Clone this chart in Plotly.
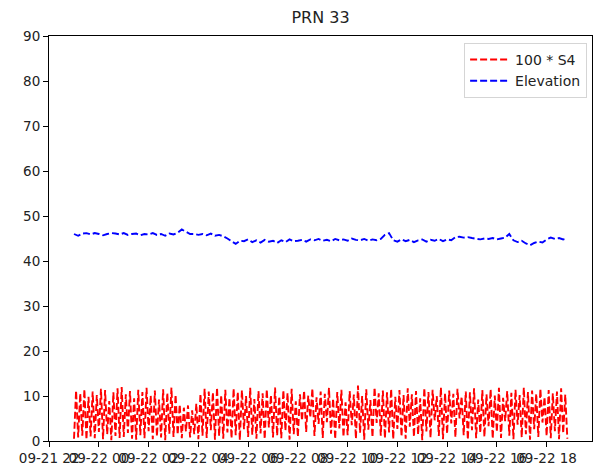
import plotly.graph_objects as go
import pandas as pd

# --- data ---
s4_start = "2019-09-21 23:00"
s4_step = "5min"
s4_x100 = [
    0.5, 11.2, 0.8, 10.6, 1.2, 11.5, 0.3, 9.8, 1.0, 11.0,
    0.6, 10.2, 2.0, 11.6, 0.4, 11.3, 1.5, 8.9, 0.2, 10.8,
    1.1, 11.7, 0.7, 12.0, 0.9, 10.4, 1.8, 11.1, 0.5, 9.5,
    0.3, 11.4, 1.3, 10.9, 0.6, 11.8, 2.2, 10.1, 0.4, 11.2,
    1.0, 9.2, 0.8, 11.5, 0.2, 10.7, 1.6, 11.9, 0.9, 10.3,
    1.4, 8.1, 0.6, 7.4, 2.1, 7.9, 0.8, 6.8, 1.5, 8.3,
    0.4, 10.5, 1.2, 11.6, 0.7, 11.0, 2.4, 10.8, 0.3, 11.9,
    1.1, 10.2, 0.5, 11.4, 1.9, 9.6, 0.6, 11.7, 1.3, 10.9,
    0.2, 11.3, 2.6, 10.0, 0.9, 11.8, 1.4, 9.3, 0.5, 11.1,
    1.7, 10.6, 0.4, 11.5, 3.0, 10.2, 0.8, 11.9, 1.2, 9.9,
    0.6, 11.3, 2.3, 10.7, 0.3, 11.6, 1.5, 8.8, 0.9, 10.4,
    4.5, 11.2, 2.0, 10.1, 5.2, 11.7, 1.1, 9.7, 3.8, 11.0,
    0.7, 10.5, 4.2, 11.8, 1.6, 9.4, 0.4, 10.9, 2.8, 11.4,
    0.9, 8.6, 1.3, 11.1, 3.5, 10.3, 0.5, 12.3, 1.8, 10.0,
    0.3, 11.5, 2.5, 9.1, 0.8, 11.9, 4.0, 10.6, 1.2, 11.2,
    0.6, 10.8, 1.9, 11.6, 0.4, 9.8, 2.7, 11.3, 1.0, 10.2,
    0.5, 11.7, 3.2, 10.4, 0.9, 11.1, 1.4, 9.5, 0.2, 11.8,
    2.1, 10.9, 0.7, 11.4, 4.6, 10.0, 1.1, 11.9, 0.4, 10.6,
    1.6, 11.2, 3.9, 10.5, 0.8, 11.6, 5.0, 9.9, 1.3, 11.0,
    0.3, 10.8, 2.4, 11.7, 0.6, 9.2, 1.8, 11.3, 0.9, 10.4,
    3.3, 11.5, 0.5, 10.1, 2.0, 11.8, 0.7, 9.6, 4.4, 11.1,
    1.2, 10.7, 0.4, 11.4, 3.6, 10.2, 0.8, 11.9, 1.5, 10.9,
    0.3, 11.2, 2.6, 10.5, 0.9, 11.6, 4.1, 9.8, 1.1, 11.3,
    0.6, 10.6, 2.2, 11.0, 0.4, 11.7, 1.7, 10.3, 0.5,
]

elev_start = "2019-09-21 23:00"
elev_step = "10min"
elevation = [
    46.0, 45.6, 46.1, 46.2, 45.9, 46.2, 46.0, 45.7, 46.0, 46.2,
    46.1, 45.9, 46.2, 45.8, 46.0, 46.1, 45.7, 46.0, 45.9, 46.2,
    45.8, 46.0, 45.6, 46.1, 45.9, 46.3, 47.0, 46.5, 46.0, 46.0,
    45.8, 46.0, 45.7, 46.1, 45.6, 45.8, 45.5, 45.0, 44.3, 43.8,
    44.5, 44.4, 44.8, 44.2, 44.6, 44.1, 44.7, 44.3, 44.5, 44.0,
    44.6, 44.2, 44.8, 44.4, 44.5, 44.7, 44.3, 44.8, 44.6, 44.9,
    44.5, 44.7, 44.4, 44.9, 44.6, 44.8, 44.5, 45.0, 44.7, 44.6,
    44.9, 44.5, 44.8, 44.6, 44.9, 45.8, 46.2, 44.6, 44.3, 44.8,
    44.4, 44.7, 44.2, 44.6, 44.8, 44.3, 44.7, 44.5, 44.9, 44.4,
    44.8, 44.6, 45.3, 45.4, 45.2, 45.3, 45.1, 45.0, 44.8, 45.0,
    44.9, 45.1, 44.8, 45.0, 45.2, 46.0, 44.6, 44.2, 44.5, 43.9,
    43.5, 44.0, 44.3, 44.1, 44.8, 45.2, 44.9, 45.1, 44.8, 45.0,
]

tick_values = [
    "2019-09-21 22:00", "2019-09-22 00:00", "2019-09-22 02:00", "2019-09-22 04:00",
    "2019-09-22 06:00", "2019-09-22 08:00", "2019-09-22 10:00", "2019-09-22 12:00",
    "2019-09-22 14:00", "2019-09-22 16:00", "2019-09-22 18:00",
]
tick_labels = [
    "09-21 22", "09-22 00", "09-22 02", "09-22 04", "09-22 06", "09-22 08",
    "09-22 10", "09-22 12", "09-22 14", "09-22 16", "09-22 18",
]
x_range = ["2019-09-21 21:59:40", "2019-09-22 19:49:30"]
y_ticks = [0, 10, 20, 30, 40, 50, 60, 70, 80, 90]

s4_times = pd.date_range(s4_start, periods=len(s4_x100), freq=s4_step)
elev_times = pd.date_range(elev_start, periods=len(elevation), freq=elev_step)

FONT = "DejaVu Sans"

fig = go.Figure()
fig.add_trace(go.Scatter(
    x=s4_times, y=s4_x100, mode="lines", name="100 * S4",
    line=dict(color="#ff0000", width=1.9, dash="7px,3px"),
))
fig.add_trace(go.Scatter(
    x=elev_times, y=elevation, mode="lines", name="Elevation",
    line=dict(color="#0000ff", width=1.9, dash="7px,3px"),
))

axis_common = dict(
    showline=True, mirror=True, linecolor="black", linewidth=1.1,
    ticks="outside", ticklen=5, tickwidth=1.1, tickcolor="black",
    showgrid=False, zeroline=False,
    tickfont=dict(family=FONT, size=13.5, color="#222222"),
)

fig.update_layout(
    width=593, height=469,
    margin=dict(l=49, r=1, t=36, b=28),
    paper_bgcolor="white", plot_bgcolor="white",
    title=dict(text="PRN 33", x=0.5405, xanchor="center", y=1 - 17 / 469,
               yanchor="middle", font=dict(family=FONT, size=16, color="#222222")),
    xaxis=dict(type="date", range=x_range, tickmode="array",
               tickvals=tick_values, ticktext=tick_labels, tickangle=0, **axis_common),
    yaxis=dict(range=[0, 90], tickmode="array", tickvals=y_ticks, **axis_common),
    legend=dict(x=0.991, xanchor="right", y=0.983, yanchor="top",
                bgcolor="rgba(255,255,255,0.8)", bordercolor="#d5d5d5", borderwidth=1,
                itemwidth=40,
                font=dict(family=FONT, size=14, color="#222222")),
    showlegend=True,
)

fig.write_html(
    "out.html",
    config={"displayModeBar": False},
    post_script="document.body.style.margin='0';document.body.style.overflow='hidden';",
)
